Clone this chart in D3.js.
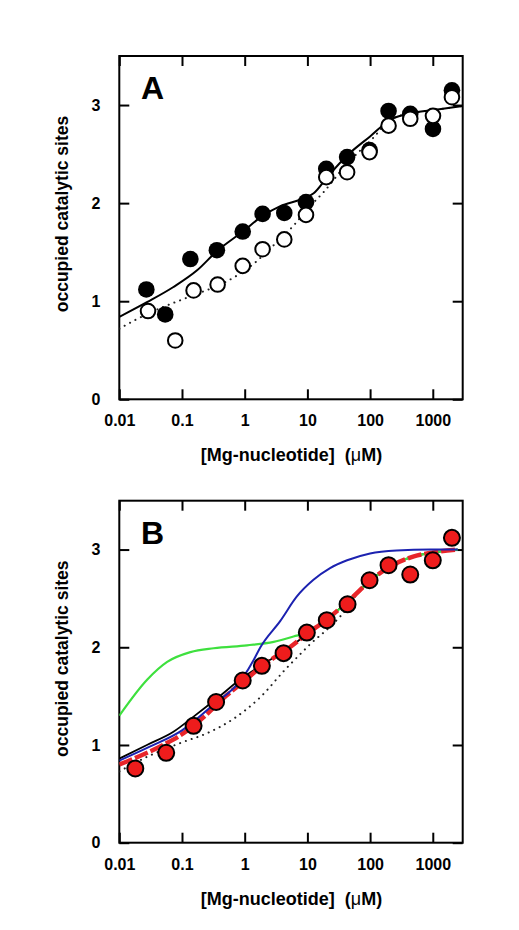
<!DOCTYPE html>
<html>
<head>
<meta charset="utf-8">
<script src="https://cdn.jsdelivr.net/npm/d3@7"></script>
<style>
  html, body { margin: 0; padding: 0; background: #fff; }
  svg { display: block; }
  text { font-family: "Liberation Sans", Arial, Helvetica, sans-serif; font-weight: bold; fill: #000; }
</style>
</head>
<body>
<svg id="chart" width="519" height="930"></svg>
<script>
// ---------- data ----------
const xTicks = [0.01, 0.1, 1, 10, 100, 1000];
const xTickLabels = ["0.01", "0.1", "1", "10", "100", "1000"];
const yTicks = [0, 1, 2, 3];
const yTickLabels = ["0", "1", "2", "3"];

// Panel A: filled circles
const aFilledX = [0.027, 0.054, 0.136, 0.36, 0.93, 1.93, 4.28, 9.5, 20, 43, 98, 197, 437, 1007, 2020];
const aFilledY = [1.12, 0.865, 1.43, 1.52, 1.71, 1.89, 1.90, 2.01, 2.35, 2.47, 2.54, 2.94, 2.91, 2.757, 3.15];
// Panel A: open circles
const aOpenX = [0.0287, 0.078, 0.153, 0.37, 0.93, 1.93, 4.28, 9.5, 20, 43, 98, 197, 437, 1007, 2020];
const aOpenY = [0.90, 0.60, 1.11, 1.17, 1.36, 1.53, 1.63, 1.88, 2.265, 2.315, 2.52, 2.79, 2.86, 2.89, 3.08];
// Panel A: fitted solid line
const aSolidX = [0.01, 0.0276, 0.073, 0.174, 0.36, 0.93, 1.93, 3.7, 8, 12.6, 20.8, 43, 100, 210, 490, 1040, 3000];
const aSolidY = [0.84, 0.99, 1.145, 1.315, 1.51, 1.71, 1.87, 1.97, 2.04, 2.10, 2.265, 2.485, 2.68, 2.85, 2.92, 2.95, 2.99];
// Panel A: fitted dotted line
const aDotX = [0.01, 0.03, 0.094, 0.2, 0.41, 1.38, 3, 6, 10, 18, 40, 114, 210, 490, 1040, 3000];
const aDotY = [0.72, 0.88, 1.01, 1.09, 1.17, 1.38, 1.58, 1.77, 1.94, 2.11, 2.38, 2.67, 2.85, 2.92, 2.95, 2.99];

// Panel B: data points
const bPointX = [0.018, 0.056, 0.153, 0.35, 0.93, 1.88, 4.17, 9.8, 20.4, 43.7, 98, 197, 437, 1000, 2020];
const bPointY = [0.76, 0.92, 1.196, 1.44, 1.66, 1.81, 1.94, 2.15, 2.277, 2.44, 2.686, 2.84, 2.744, 2.89, 3.12];
// Panel B: model curves
const bRedX = [0.01, 0.02, 0.05, 0.1, 0.2, 0.5, 1, 2, 5, 10, 20, 50, 100, 200, 500, 1000, 2500];
const bRedY = [0.80, 0.88, 1.00, 1.11, 1.26, 1.50, 1.66, 1.82, 1.99, 2.14, 2.28, 2.50, 2.68, 2.82, 2.93, 2.97, 3.00];
const bBlackX = [0.01, 0.0276, 0.073, 0.153, 0.35, 0.93, 2, 5, 10, 20, 50, 100, 200, 500, 1000, 2500];
const bBlackY = [0.86, 1.00, 1.135, 1.29, 1.47, 1.69, 1.83, 1.99, 2.14, 2.28, 2.50, 2.68, 2.82, 2.93, 2.97, 3.00];
const bBlueX = [0.01, 0.03, 0.1, 0.3, 0.96, 1.39, 1.78, 3.7, 6.8, 12.5, 23, 43, 100, 265, 920, 2500];
const bBlueY = [0.84, 0.98, 1.15, 1.40, 1.70, 1.87, 2.00, 2.27, 2.52, 2.69, 2.81, 2.89, 2.96, 2.99, 3.00, 3.00];
const bGreenX = [0.01, 0.028, 0.058, 0.136, 0.32, 1.09, 2.9, 6, 10, 20, 50, 100, 200, 500, 1000, 2500];
const bGreenY = [1.30, 1.67, 1.85, 1.95, 1.99, 2.02, 2.055, 2.11, 2.15, 2.28, 2.50, 2.68, 2.82, 2.93, 2.97, 3.00];
const bDotX = [0.01, 0.028, 0.094, 0.25, 0.67, 1.78, 4.4, 7.7, 11, 23, 35, 60, 100, 200, 500, 1000, 2500];
const bDotY = [0.73, 0.88, 1.02, 1.12, 1.27, 1.49, 1.77, 1.93, 2.03, 2.21, 2.33, 2.53, 2.68, 2.82, 2.93, 2.97, 3.00];

// ---------- layout ----------
const svg = d3.select("#chart");
const X0 = 119.3, X1 = 462.7;

function zip(xs, ys) { return xs.map((x, i) => [x, ys[i]]); }

function panel(top, bottom, letter) {
  const g = svg.append("g");
  const x = d3.scaleLog().domain([0.01, 3000]).range([X0, X1]);
  const y = d3.scaleLinear().domain([0, 3.5]).range([bottom, top]);
  const line = d3.line().x(d => x(d[0])).y(d => y(d[1])).curve(d3.curveMonotoneX);

  const tickLen = 10;
  const bAxis = g.append("g").attr("transform", `translate(0,${bottom})`)
    .call(d3.axisBottom(x).tickValues(xTicks).tickSize(-tickLen).tickFormat((d, i) => xTickLabels[i]));
  const tAxis = g.append("g").attr("transform", `translate(0,${top})`)
    .call(d3.axisTop(x).tickValues(xTicks).tickSize(-tickLen).tickFormat(""));
  const lAxis = g.append("g").attr("transform", `translate(${X0},0)`)
    .call(d3.axisLeft(y).tickValues(yTicks).tickSize(-tickLen).tickFormat((d, i) => yTickLabels[i]).tickPadding(tickLen + 9));
  const rAxis = g.append("g").attr("transform", `translate(${X1},0)`)
    .call(d3.axisRight(y).tickValues(yTicks).tickSize(-tickLen).tickFormat(""));
  [bAxis, tAxis, lAxis, rAxis].forEach(a => {
    a.select(".domain").remove();
    a.selectAll(".tick line").attr("stroke", "#000").attr("stroke-width", 2);
  });
  bAxis.selectAll(".tick text").attr("font-size", 16).attr("font-family", null).attr("dy", null)
    .attr("y", 27);
  lAxis.selectAll(".tick text").attr("font-size", 16).attr("font-family", null);
  g.append("rect").attr("x", X0).attr("y", top).attr("width", X1 - X0).attr("height", bottom - top)
    .attr("fill", "none").attr("stroke", "#000").attr("stroke-width", 2);

  g.append("text").attr("x", 141).attr("y", top + 43).attr("font-size", 32).text(letter);
  g.append("text").attr("transform", `translate(68,${top + 158}) rotate(-90)`)
    .attr("text-anchor", "middle").attr("font-size", 17.5).text("occupied catalytic sites");
  const t = g.append("text").attr("x", 291.5).attr("y", bottom + 62).attr("text-anchor", "middle").attr("font-size", 18);
  t.append("tspan").text("[Mg-nucleotide]\u00a0\u00a0(");
  t.append("tspan").attr("font-weight", "normal").text("\u03bc");
  t.append("tspan").text("M)");

  const clip = "clip" + letter;
  g.append("clipPath").attr("id", clip).append("rect")
    .attr("x", X0).attr("y", top).attr("width", X1 - X0).attr("height", bottom - top);
  const plot = g.append("g").attr("clip-path", `url(#${clip})`);
  return { x, y, line, plot };
}

// ---------- Panel A ----------
const A = panel(56, 399.3, "A");
A.plot.append("path").attr("d", A.line(zip(aDotX, aDotY))).attr("fill", "none")
  .attr("stroke", "#222").attr("stroke-width", 2).attr("stroke-dasharray", "0.1 6").attr("stroke-linecap", "round");
A.plot.append("path").attr("d", A.line(zip(aSolidX, aSolidY))).attr("fill", "none")
  .attr("stroke", "#000").attr("stroke-width", 2);
svg.append("g").selectAll("circle").data(zip(aFilledX, aFilledY)).join("circle")
  .attr("cx", d => A.x(d[0])).attr("cy", d => A.y(d[1])).attr("r", 8.3).attr("fill", "#000");
svg.append("g").selectAll("circle").data(zip(aOpenX, aOpenY)).join("circle")
  .attr("cx", d => A.x(d[0])).attr("cy", d => A.y(d[1])).attr("r", 7.3)
  .attr("fill", "#fff").attr("stroke", "#000").attr("stroke-width", 2);

// ---------- Panel B ----------
const B = panel(500.7, 842.7, "B");
B.plot.append("path").attr("d", B.line(zip(bDotX, bDotY))).attr("fill", "none")
  .attr("stroke", "#222").attr("stroke-width", 2).attr("stroke-dasharray", "0.1 6").attr("stroke-linecap", "round");
B.plot.append("path").attr("d", B.line(zip(bBlackX, bBlackY))).attr("fill", "none")
  .attr("stroke", "#000").attr("stroke-width", 1.8);
B.plot.append("path").attr("d", B.line(zip(bGreenX, bGreenY))).attr("fill", "none")
  .attr("stroke", "#3ee03e").attr("stroke-width", 2.2);
B.plot.append("path").attr("d", B.line(zip(bRedX, bRedY))).attr("fill", "none")
  .attr("stroke", "#e8252a").attr("stroke-width", 4.5).attr("stroke-dasharray", "14 3");
B.plot.append("path").attr("d", B.line(zip(bBlueX, bBlueY))).attr("fill", "none")
  .attr("stroke", "#1c22b0").attr("stroke-width", 2);
svg.append("g").selectAll("circle").data(zip(bPointX, bPointY)).join("circle")
  .attr("cx", d => B.x(d[0])).attr("cy", d => B.y(d[1])).attr("r", 8)
  .attr("fill", "#ee1c1c").attr("stroke", "#000").attr("stroke-width", 2);
</script>
</body>
</html>
